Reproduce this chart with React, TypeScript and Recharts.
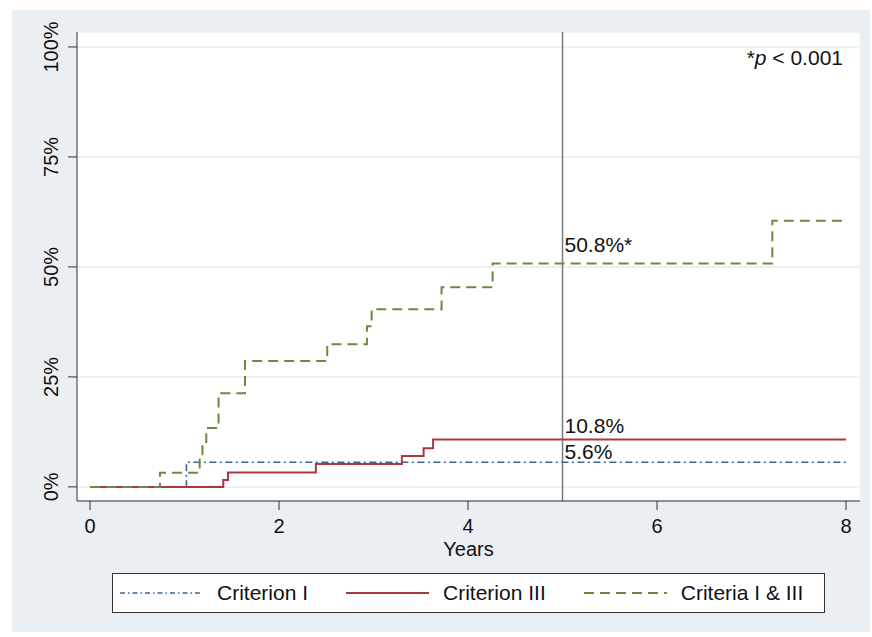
import React from "react";
import {
  LineChart,
  Line,
  XAxis,
  YAxis,
  CartesianGrid,
  ReferenceLine,
  ReferenceDot,
  Label,
} from "recharts";

const FONT = "'Liberation Sans', Arial, Helvetica, sans-serif";

// cumulative incidence (years -> proportion)
const critITimes = [0, 1.02, 8];
const critIValues = [0, 0.056, 0.056];

const critIIITimes = [0, 1.41, 1.46, 2.39, 3.3, 3.53, 3.63, 8];
const critIIIValues = [0, 0.016, 0.033, 0.052, 0.07, 0.088, 0.108, 0.108];

const bothTimes = [0, 0.74, 1.16, 1.19, 1.23, 1.36, 1.64, 2.51, 2.93, 2.98, 3.72, 4.26, 7.22, 7.96];
const bothValues = [0, 0.032, 0.068, 0.102, 0.134, 0.213, 0.286, 0.324, 0.365, 0.404, 0.454, 0.508, 0.605, 0.605];

const xTicks = [0, 2, 4, 6, 8];
const yTicks = [0, 0.25, 0.5, 0.75, 1];

const cutoffYear = 5;
const fiveYearLabels = ["5.6%", "10.8%", "50.8%*"];
const fiveYearValues = [0.056, 0.108, 0.508];
const labelLift = [-3, -6, -11];

const toRows = (times: number[], values: number[]) =>
  times.map((t, i) => ({ t, v: values[i] }));

const series = [
  {
    name: "Criterion I",
    data: toRows(critITimes, critIValues),
    color: "#3a6794",
    dash: "7 3.5 2 3.5",
    legendDash: "5 3 1.5 3",
    width: 1.6,
  },
  {
    name: "Criterion III",
    data: toRows(critIIITimes, critIIIValues),
    color: "#a8393f",
    dash: undefined,
    legendDash: undefined,
    width: 2,
  },
  {
    name: "Criteria I & III",
    data: toRows(bothTimes, bothValues),
    color: "#6a8a3e",
    dash: "10 6",
    legendDash: "10 6",
    width: 2,
  },
];

const XTick = ({ x, y, payload }: any) => (
  <text x={x} y={y + 23} textAnchor="middle" fontSize={20} fontFamily={FONT} fill="#111">
    {payload.value}
  </text>
);

const YTick = ({ x, y, payload }: any) => (
  <text
    x={x - 10}
    y={y}
    transform={`rotate(-90, ${x - 10}, ${y})`}
    textAnchor="middle"
    fontSize={20}
    fontFamily={FONT}
    fill="#111"
  >
    {`${Math.round(payload.value * 100)}%`}
  </text>
);

const YearsLabel = ({ viewBox }: any) => (
  <text
    x={viewBox.x + viewBox.width / 2}
    y={viewBox.y + 55}
    textAnchor="middle"
    fontSize={20}
    fontFamily={FONT}
    fill="#111"
  >
    Years
  </text>
);

export default function App() {
  return (
    <div style={{ position: "absolute", left: 0, top: 0, width: 872, height: 637, background: "#fff" }}>
      <div
        style={{ position: "absolute", left: 12, top: 10, width: 858, height: 622, background: "#e9eff2" }}
      />
      <div style={{ position: "absolute", left: 0, top: 0 }}>
        <LineChart width={872} height={637} margin={{ top: 32, right: 12, bottom: 0, left: 0 }}>
          <CartesianGrid vertical={false} stroke="#e6edf1" strokeWidth={1.5} fill="#fff" fillOpacity={1} />
          <XAxis
            type="number"
            dataKey="t"
            domain={[-0.138, 8.148]}
            allowDataOverflow
            ticks={xTicks}
            tick={<XTick />}
            tickSize={9}
            tickMargin={0}
            height={136}
            stroke="#333"
            tickLine={{ stroke: "#333" }}
          >
            <Label content={<YearsLabel />} />
          </XAxis>
          <YAxis
            type="number"
            domain={[-0.032, 1.034]}
            allowDataOverflow
            ticks={yTicks}
            tick={<YTick />}
            tickSize={9}
            tickMargin={0}
            width={77}
            stroke="#333"
            tickLine={{ stroke: "#333" }}
          />
          <ReferenceLine x={cutoffYear} stroke="#7a7a7a" strokeWidth={1.5} />
          {series.map((s) => (
            <Line
              key={s.name}
              data={s.data}
              dataKey="v"
              name={s.name}
              type="stepAfter"
              stroke={s.color}
              strokeWidth={s.width}
              strokeDasharray={s.dash}
              dot={false}
              activeDot={false}
              isAnimationActive={false}
            />
          ))}
          {fiveYearValues.map((v, i) => (
            <ReferenceDot
              key={fiveYearLabels[i]}
              x={cutoffYear}
              y={v}
              r={1}
              fill="none"
              stroke="none"
              label={({ viewBox }: any) => (
                <text
                  x={viewBox.x + viewBox.width / 2 + 2}
                  y={viewBox.y + viewBox.height / 2 + labelLift[i]}
                  fontSize={21}
                  fontFamily={FONT}
                  fill="#111"
                >
                  {fiveYearLabels[i]}
                </text>
              )}
            />
          ))}
          <ReferenceDot
            x={8}
            y={0.96}
            r={1}
            fill="none"
            stroke="none"
            label={({ viewBox }: any) => (
              <text
                x={viewBox.x + viewBox.width / 2 - 3}
                y={viewBox.y + viewBox.height / 2}
                textAnchor="end"
                fontSize={21}
                fontFamily={FONT}
                fill="#111"
              >
                *<tspan fontStyle="italic">p</tspan> {"< 0.001"}
              </text>
            )}
          />
        </LineChart>
      </div>
      <div
        style={{
          position: "absolute",
          left: 112,
          top: 573,
          width: 713,
          height: 40,
          boxSizing: "border-box",
          background: "#fff",
          border: "1.5px solid #333",
          display: "flex",
          alignItems: "center",
          paddingLeft: 7,
          gap: 38,
          fontFamily: FONT,
          fontSize: 21,
          color: "#111",
        }}
      >
        {series.map((s) => (
          <div key={s.name} style={{ display: "flex", alignItems: "center", gap: 14 }}>
            <svg width={83} height={6}>
              <line
                x1={0}
                y1={3}
                x2={83}
                y2={3}
                stroke={s.color}
                strokeWidth={s.width}
                strokeDasharray={s.legendDash}
              />
            </svg>
            <span>{s.name}</span>
          </div>
        ))}
      </div>
    </div>
  );
}
